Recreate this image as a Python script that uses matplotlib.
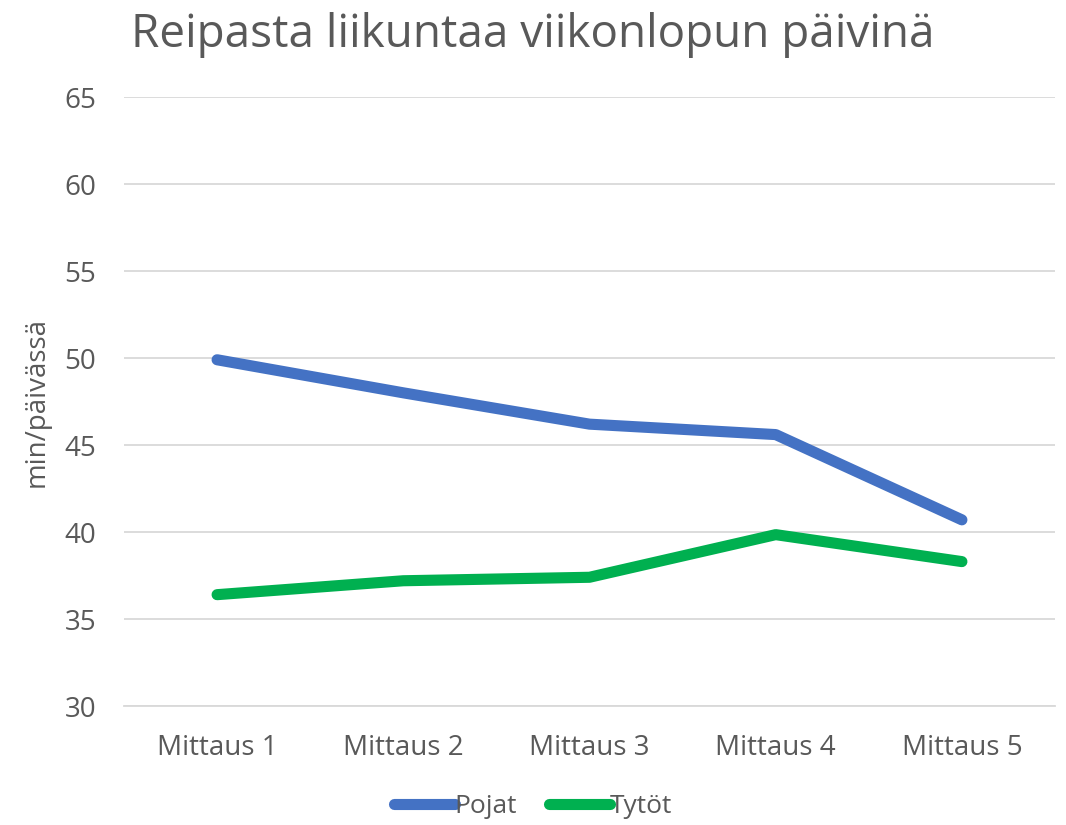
import matplotlib.pyplot as plt
import numpy as np

plt.rcParams['font.family'] = ['Open Sans', 'DejaVu Sans']

# Data
categories = ['Mittaus 1', 'Mittaus 2', 'Mittaus 3', 'Mittaus 4', 'Mittaus 5']
pojat = [49.9, 48.0, 46.2, 45.6, 40.7]
tytot = [36.4, 37.2, 37.4, 39.85, 38.3]
yticks = [30, 35, 40, 45, 50, 55, 60, 65]

TEXT = '#595959'

fig = plt.figure(figsize=(10.66, 8.25), dpi=100)
ax = fig.add_axes([0.1163, 0.1442, 0.8734, 0.7382])

x = np.arange(len(categories))
ax.plot(x, pojat, color='#4472C4', linewidth=8, solid_capstyle='round',
        solid_joinstyle='round', label='Pojat')
ax.plot(x, tytot, color='#00B050', linewidth=8, solid_capstyle='round',
        solid_joinstyle='round', label='Tytöt')

ax.set_xlim(-0.5, len(categories) - 0.5)
ax.set_ylim(30, 65)
ax.set_yticks(yticks)
ax.set_xticks(x)
ax.set_xticklabels(categories)
ax.grid(axis='y', color='#D9D9D9', linewidth=1.3)
ax.set_axisbelow(True)
for s in ['top', 'right', 'left']:
    ax.spines[s].set_visible(False)
ax.spines['bottom'].set_color('#D9D9D9')
ax.spines['bottom'].set_linewidth(1.3)
ax.tick_params(axis='both', length=0, labelsize=20, colors=TEXT)
ax.tick_params(axis='x', pad=20)
ax.tick_params(axis='y', pad=20)
ax.set_ylabel('min/päivässä', fontsize=20, color=TEXT, labelpad=10)

fig.text(0.5, 0.957, 'Reipasta liikuntaa viikonlopun päivinä', ha='center', va='center',
         fontsize=33, color=TEXT)

fig.legend(loc='center', bbox_to_anchor=(0.5, 0.022), ncol=2, frameon=False,
           fontsize=19, handlelength=2.3, handletextpad=0.0, columnspacing=1.2,
           labelcolor=TEXT)

fig.savefig('out.png', dpi=100)
